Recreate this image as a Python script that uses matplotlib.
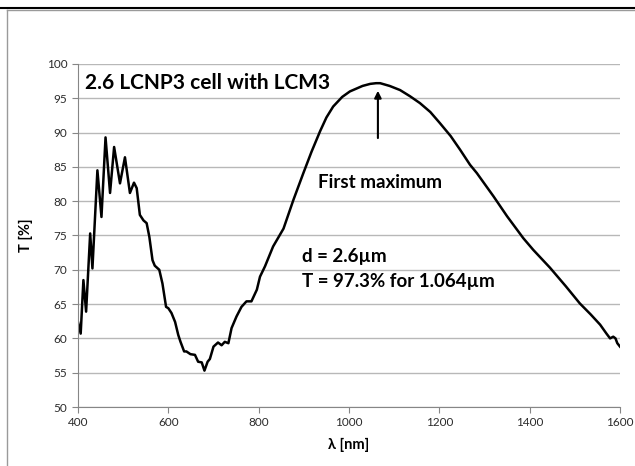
import matplotlib
matplotlib.use("Agg")
import matplotlib.pyplot as plt
from matplotlib.lines import Line2D

plt.rcParams['font.family'] = ['Lato', 'DejaVu Sans']

# Data
wavelength = [400, 406, 412, 418, 427, 432, 443, 452, 461, 471, 480, 493, 504, 515,
              524, 530, 537, 545, 552, 558, 565, 570, 580, 587, 595, 600, 607, 615,
              622, 627, 635, 640, 649, 659, 666, 674, 680, 687, 692, 700, 710, 718,
              725, 733, 740, 751, 762, 773, 784, 796, 803, 814, 832, 855, 877, 899,
              917, 936, 950, 965, 985, 1002, 1030, 1047, 1060, 1069, 1090, 1113,
              1135, 1157, 1180, 1201, 1225, 1246, 1268, 1283, 1320, 1350, 1386,
              1408, 1445, 1480, 1511, 1535, 1556, 1570, 1578, 1585, 1590, 1594, 1600]
transmission = [62.4, 60.7, 68.5, 63.9, 75.3, 70.2, 84.5, 77.7, 89.3, 81.2, 87.9, 82.6,
                86.4, 81.2, 82.7, 81.9, 78.0, 77.2, 76.8, 74.8, 71.4, 70.6, 70.0, 68.0,
                64.6, 64.4, 63.7, 62.4, 60.5, 59.5, 58.1, 58.1, 57.7, 57.6, 56.6, 56.5,
                55.3, 56.6, 57.0, 58.8, 59.4, 59.0, 59.5, 59.3, 61.5, 63.2, 64.6, 65.4,
                65.4, 67.1, 69.0, 70.5, 73.4, 76.0, 80.2, 84.1, 87.2, 90.2, 92.2, 93.8,
                95.2, 96.0, 96.8, 97.1, 97.2, 97.2, 96.8, 96.2, 95.3, 94.3, 93.0, 91.4,
                89.5, 87.5, 85.3, 84.1, 80.7, 77.8, 74.6, 72.9, 70.3, 67.6, 65.1, 63.5,
                62.0, 60.7, 60.0, 60.25, 60.0, 59.3, 58.8]

xticks = [400, 600, 800, 1000, 1200, 1400, 1600]
yticks = [50, 55, 60, 65, 70, 75, 80, 85, 90, 95, 100]

fig = plt.figure(figsize=(6.35, 4.66), dpi=100)
ax = fig.add_axes([0.1228, 0.1266, 0.8536, 0.7361])

ax.plot(wavelength, transmission, color='black', linewidth=1.8, solid_joinstyle='round')

ax.set_xlim(400, 1600)
ax.set_ylim(50, 100)
ax.set_xticks(xticks)
ax.set_yticks(yticks)
ax.tick_params(direction='out', length=4, color='#868686', labelsize=8.5,
               labelcolor='#2b2b2b')
ax.grid(True, axis='y', color='#b8b8b8', linewidth=1)
ax.set_axisbelow(True)
for s in ['top', 'right']:
    ax.spines[s].set_visible(False)
for s in ['left', 'bottom']:
    ax.spines[s].set_color('#868686')

ax.set_xlabel("λ [nm]", fontsize=10.5, fontweight='bold', labelpad=7)
ax.set_ylabel("T [%]", fontsize=10.5, fontweight='bold', labelpad=10)

ax.text(0.013, 0.975, "2.6 LCNP3 cell with LCM3", transform=ax.transAxes,
        fontsize=15, fontweight='bold', va='top', ha='left')
ax.annotate("", xy=(1064, 96.5), xytext=(1064, 88.8),
            arrowprops=dict(arrowstyle='-|>', color='black', lw=1.5,
                            mutation_scale=10))
ax.text(1068, 82.7, "First maximum", fontsize=13.5, fontweight='bold',
        ha='center', va='center')
ax.text(897, 72.0, "d = 2.6\u00b5m", fontsize=13.5, fontweight='bold',
        ha='left', va='center')
ax.text(897, 68.3, "T = 97.3% for 1.064\u00b5m", fontsize=13.5, fontweight='bold',
        ha='left', va='center')

# outer chart frame
fig.add_artist(Line2D([0, 1], [1 - 7.5 / 466] * 2, color='black', linewidth=1.5))
fig.add_artist(Line2D([7 / 635, 1], [1 - 9.5 / 466] * 2, color='#9a9a9a', linewidth=1))
fig.add_artist(Line2D([7 / 635] * 2, [0, 1 - 9.5 / 466], color='#9a9a9a', linewidth=1))

fig.savefig("out.png", dpi=100)
